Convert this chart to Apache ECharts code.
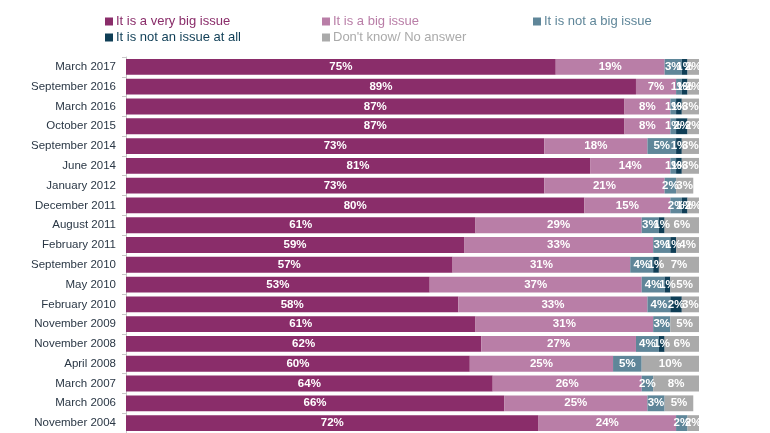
<!DOCTYPE html>
<html>
<head>
<meta charset="utf-8">
<script src="https://cdn.jsdelivr.net/npm/echarts@6/dist/echarts.min.js"></script>
<style>html,body{margin:0;padding:0;background:#fff;}#c{width:770px;height:433px;}</style>
</head>
<body>
<div id="c"></div>
<script>
var categories = ["March 2017","September 2016","March 2016","October 2015","September 2014","June 2014","January 2012","December 2011","August 2011","February 2011","September 2010","May 2010","February 2010","November 2009","November 2008","April 2008","March 2007","March 2006","November 2004"];
var veryBig   = [75,89,87,87,73,81,73,80,61,59,57,53,58,61,62,60,64,66,72];
var big       = [19,7,8,8,18,14,21,15,29,33,31,37,33,31,27,25,26,25,24];
var notBig    = [3,1,1,1,5,1,2,2,3,3,4,4,4,3,4,5,2,3,2];
var notAtAll  = [1,1,1,2,1,1,0,1,1,1,1,1,2,0,1,0,0,0,0];
var dontKnow  = [2,2,3,2,3,3,3,2,6,4,7,5,3,5,6,10,8,5,2];
var seriesNames = ["It is a very big issue","It is a big issue","It is not a big issue","It is not an issue at all","Don't know/ No answer"];
var colors = ["#8a2d6a","#b97ea7","#5f8699","#0f3e56","#aaaaaa"];

var chart = echarts.init(document.getElementById('c'));
var allData = [veryBig, big, notBig, notAtAll, dontKnow];
var series = allData.map(function(d, i){
  return {
    name: seriesNames[i], type: 'bar', stack: 'total', data: d,
    barCategoryGap: '20%',
    itemStyle: {color: colors[i]},
    label: {
      show: true, position: 'inside', color: '#fff',
      fontFamily: 'Liberation Sans, Arial, sans-serif', fontWeight: 'bold', fontSize: 11.5,
      formatter: function(p){ return p.value ? p.value + '%' : ''; }
    }
  };
});
function leg(names, idx, left){
  return {
    orient: 'vertical', left: left, top: 10, itemGap: 3,
    itemWidth: 8, itemHeight: 8, icon: 'rect',
    textStyle: {fontFamily: 'Liberation Sans Narrow, Liberation Sans, Arial, sans-serif', fontSize: 13, padding: [0,0,0,-2]},
    data: names.map(function(n, k){ return {name: n, textStyle: {color: colors[idx[k]]}}; })
  };
}
chart.setOption({
  animation: false,
  color: colors,
  legend: [
    leg([seriesNames[0], seriesNames[3]], [0,3], 100),
    leg([seriesNames[1], seriesNames[4]], [1,4], 317),
    leg([seriesNames[2]], [2], 528)
  ],
  grid: {left: 126, top: 57, width: 573, height: 380},
  xAxis: {type: 'value', min: 0, max: 100, show: false},
  yAxis: {
    type: 'category', data: categories, inverse: true,
    axisLine: {show: true, lineStyle: {color: '#c8c8c8'}},
    axisTick: {show: true, length: 4, lineStyle: {color: '#c8c8c8'}},
    axisLabel: {color: '#2a3745', fontFamily: 'Liberation Sans, Arial, sans-serif', fontSize: 11.5, margin: 10}
  },
  series: series
});
</script>
</body>
</html>
